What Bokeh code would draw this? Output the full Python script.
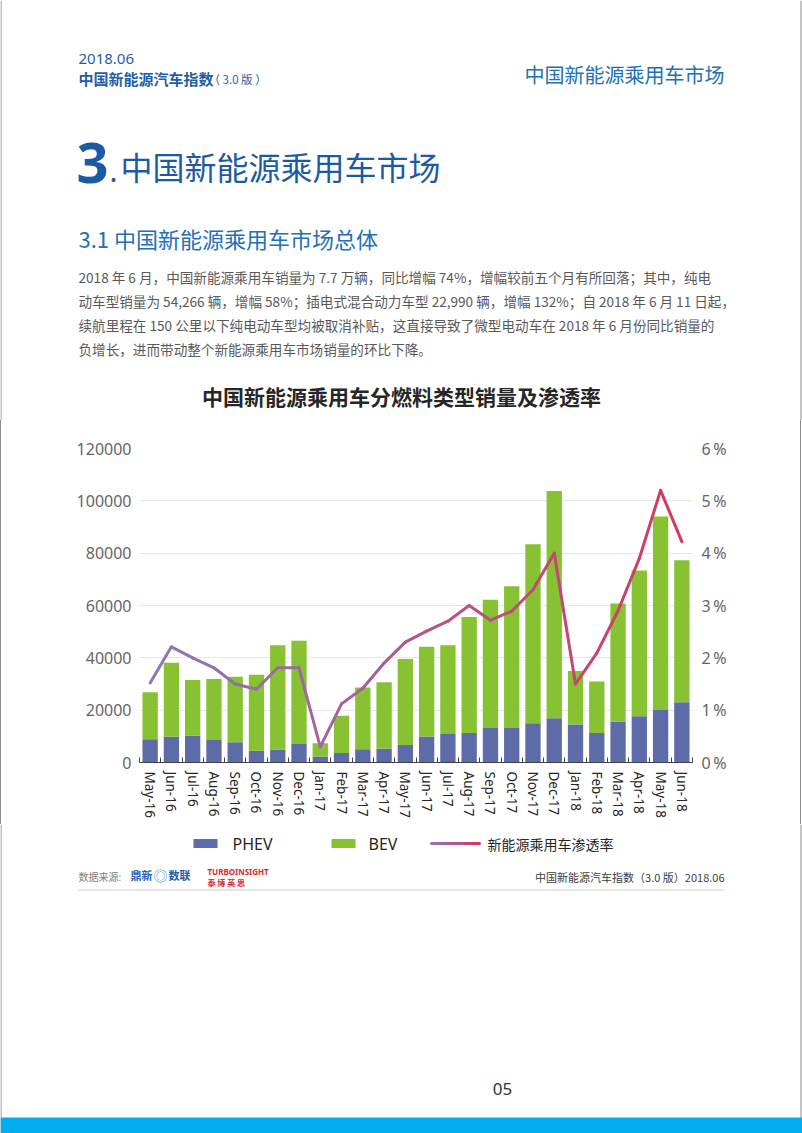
import math
import numpy as np
from bokeh.plotting import figure
from bokeh.layouts import column, row
from bokeh.models import (Range1d, LinearAxis, FixedTicker, CustomJSTickFormatter,
                          NumeralTickFormatter, ColumnDataSource, Grid, Spacer)
from bokeh.core.properties import value
from bokeh.embed import file_html
from bokeh.resources import INLINE

# ---------------- data ----------------
months = ["May-16", "Jun-16", "Jul-16", "Aug-16", "Sep-16", "Oct-16", "Nov-16", "Dec-16",
          "Jan-17", "Feb-17", "Mar-17", "Apr-17", "May-17", "Jun-17", "Jul-17", "Aug-17",
          "Sep-17", "Oct-17", "Nov-17", "Dec-17", "Jan-18", "Feb-18", "Mar-18", "Apr-18",
          "May-18", "Jun-18"]
phev = [8900, 9800, 10200, 8600, 7700, 4500, 5000, 7100,
        2300, 3600, 5100, 5300, 6700, 9900, 10900, 11300,
        13200, 13200, 15000, 16900, 14500, 11300, 15600, 17700,
        20100, 22990]
bev = [17900, 28300, 21300, 23300, 25100, 29000, 39800, 39400,
       5100, 14300, 23600, 25400, 32900, 34300, 33900, 44300,
       49000, 54200, 68400, 86900, 20500, 19700, 45200, 55700,
       73900, 54266]
penetration = [1.52, 2.21, 2.00, 1.81, 1.50, 1.40, 1.81, 1.81,
               0.30, 1.12, 1.42, 1.90, 2.30, 2.51, 2.70, 3.00,
               2.72, 2.89, 3.30, 4.00, 1.50, 2.09, 2.90, 3.90,
               5.20, 4.22]
y_ticks = [0, 20000, 40000, 60000, 80000, 100000, 120000]
pct_ticks = [0, 1, 2, 3, 4, 5, 6]
legend_labels = ["PHEV", "BEV", "新能源乘用车渗透率"]

# ---------------- styles ----------------
BLUE_BAR = "#5d6ba8"
GREEN_BAR = "#86c232"
HEAD = "#1f5fa6"
HEAD2 = "#2270b8"
CJK = "Noto Sans CJK SC"
LAT = "Noto Sans"
BORDER = "#8c8c8c"
C0 = np.array([136, 122, 186])   # gradient start (purple)
C1 = np.array([214, 56, 92])     # gradient end (crimson)


def grad(t):
    c = (C0 + (C1 - C0) * t).round().astype(int)
    return "#%02x%02x%02x" % tuple(c)


W = 802
TOP_H = 420               # page y 0..420
CH_TOP, CH_H = 420, 404   # page y 420..824
BOT_TOP = 824
BOT_H = 1133 - BOT_TOP

FL, FR, FT, FB = 139, 692, 448, 762   # chart frame in page coords
N = len(months)
YMAX = y_ticks[-1]


def deco_fig(h, top):
    f = figure(width=W, height=h, output_backend="svg", toolbar_location=None,
               x_range=Range1d(0, W), y_range=Range1d(top + h, top),
               x_axis_type=None, y_axis_type=None,
               min_border=0, min_border_left=0, min_border_right=0,
               min_border_top=0, min_border_bottom=0, frame_align=False)
    f.outline_line_color = None
    f.grid.visible = False
    # page border (left / right edges)
    f.segment(x0=[0.5, 800.5], y0=[top, top], x1=[0.5, 800.5], y1=[top + h, top + h],
              line_color=BORDER, line_width=1)
    return f


def txt(f, text, x, y, size, color, font=CJK, style="normal", align="left"):
    f.text(x=[x], y=[y], text=[text], text_font=value(font),
           text_font_size=value(f"{size}px"), text_color=color,
           text_font_style=style, text_align=align, text_baseline="middle")


# ================= top (header + text) =================
top = deco_fig(TOP_H, 0)
txt(top, "2018.06", 78, 58, 15, HEAD, font=LAT)
txt(top, "中国新能源汽车指数", 78, 78, 15, HEAD, style="bold")
txt(top, "（ 3.0 版 ）", 208, 78, 11.5, HEAD)
txt(top, "中国新能源乘用车市场", 724, 74, 20, HEAD2, align="right")

txt(top, "3", 76, 162, 56, "#1c5ba4", font=LAT, style="bold")
txt(top, ".", 109, 170, 30, "#1c5ba4", font=LAT)
txt(top, "中国新能源乘用车市场", 120, 165, 32, "#1c5ba4")
txt(top, "3.1 中国新能源乘用车市场总体", 78, 237, 22, HEAD2)

para = [
    "2018 年 6 月，中国新能源乘用车销量为 7.7 万辆，同比增幅 74%，增幅较前五个月有所回落；其中，纯电",
    "动车型销量为 54,266 辆，增幅 58%；插电式混合动力车型 22,990 辆，增幅 132%；自 2018 年 6 月 11 日起，",
    "续航里程在 150 公里以下纯电动车型均被取消补贴，这直接导致了微型电动车在 2018 年 6 月份同比销量的",
    "负增长，进而带动整个新能源乘用车市场销量的环比下降。",
]
for k, line in enumerate(para):
    txt(top, line, 78, 276 + 24 * k, 13.6, "#595959")

txt(top, "中国新能源乘用车分燃料类型销量及渗透率", 401, 395, 21, "#262626",
    style="bold", align="center")

# ================= chart =================
CW = W - 3   # 1px border strip on the left, 2px strip on the right
p = figure(width=CW, height=CH_H, output_backend="svg", toolbar_location=None,
           x_range=Range1d(0, N), y_range=Range1d(0, YMAX),
           x_axis_type=None, y_axis_type=None, frame_align=False,
           min_border_left=FL - 1, min_border_right=CW - (FR - 1),
           min_border_top=FT - CH_TOP, min_border_bottom=CH_TOP + CH_H - FB)
p.outline_line_color = None
p.extra_y_ranges = {"pct": Range1d(0, pct_ticks[-1])}

p.add_layout(Grid(dimension=1, ticker=FixedTicker(ticks=y_ticks[1:]),
                  grid_line_color="#e6e6e6", grid_line_width=1))

x_centers = [i + 0.5 for i in range(N)]

xaxis = LinearAxis(
    ticker=FixedTicker(ticks=x_centers, minor_ticks=list(range(N + 1))),
    formatter=CustomJSTickFormatter(args=dict(labels=months),
                                    code="return labels[Math.floor(tick)] || ''"),
    major_tick_line_color=None, major_tick_in=0, major_tick_out=0,
    minor_tick_in=5, minor_tick_out=0, minor_tick_line_color="#404040",
    axis_line_color="#404040", axis_line_width=1,
    major_label_orientation=-math.pi / 2, major_label_standoff=9,
    major_label_text_font=LAT, major_label_text_font_size="13.5px",
    major_label_text_color="#262626")
p.add_layout(xaxis, "below")

yaxis = LinearAxis(
    ticker=FixedTicker(ticks=y_ticks), formatter=NumeralTickFormatter(format="0"),
    axis_line_color=None, major_tick_line_color=None, minor_tick_line_color=None,
    major_tick_in=0, major_tick_out=0, major_label_standoff=8,
    major_label_text_font=LAT, major_label_text_font_size="16px",
    major_label_text_color="#666666")
p.add_layout(yaxis, "left")

raxis = LinearAxis(
    y_range_name="pct", ticker=FixedTicker(ticks=pct_ticks),
    formatter=CustomJSTickFormatter(code="return tick.toFixed(0) + '\\u2009%'"),
    axis_line_color=None, major_tick_line_color=None, minor_tick_line_color=None,
    major_tick_in=0, major_tick_out=0, major_label_standoff=9,
    major_label_text_font=LAT, major_label_text_font_size="16px",
    major_label_text_color="#666666")
p.add_layout(raxis, "right")

src = ColumnDataSource(dict(x=x_centers, month=months, PHEV=phev, BEV=bev))
bars = p.vbar_stack(["PHEV", "BEV"], x="x", width=0.72, source=src,
                    fill_color=[BLUE_BAR, GREEN_BAR], line_color=None)

seg_cols = [grad((i + 0.5) / (N - 1)) for i in range(N - 1)]
seg_src = ColumnDataSource(dict(x0=x_centers[:-1], y0=penetration[:-1],
                                x1=x_centers[1:], y1=penetration[1:], c=seg_cols))
p.segment("x0", "y0", "x1", "y1", source=seg_src, line_color="c",
          line_width=3, line_cap="round", y_range_name="pct")

chart_row = row(
    Spacer(width=1, height=CH_H, styles={"background-color": BORDER}),
    p,
    Spacer(width=1, height=CH_H, styles={"background-color": BORDER}),
    Spacer(width=1, height=CH_H, styles={"background-color": "white"}),
    spacing=0)

# ================= bottom (legend + footer) =================
bot = deco_fig(BOT_H, BOT_TOP)
# legend
bot.quad(left=[193], right=[217], top=[838.5], bottom=[847.5], fill_color=BLUE_BAR, line_color=None)
txt(bot, legend_labels[0], 232, 843, 16, "#262626", font=LAT)
bot.quad(left=[331], right=[355], top=[838.5], bottom=[847.5], fill_color=GREEN_BAR, line_color=None)
txt(bot, legend_labels[1], 368, 843, 16, "#262626", font=LAT)
nseg = 10
lx = np.linspace(431, 479, nseg + 1)
bot.segment(x0=lx[:-1], y0=[843] * nseg, x1=lx[1:], y1=[843] * nseg,
            line_color=[grad((k + 0.5) / nseg) for k in range(nseg)],
            line_width=3, line_cap="round")
txt(bot, legend_labels[2], 487, 843, 14, "#262626")

# footer
txt(bot, "数据来源:", 78, 876, 10, "#808080")
txt(bot, "鼎新", 130, 874, 11, "#2a5caa", style="bold")
txt(bot, "◎", 153, 874, 14, "#3aa0d8")
txt(bot, "数联", 168, 874, 11, "#2a5caa", style="bold")
txt(bot, "TURBOINSIGHT", 207, 871, 8, "#d7282f", font=LAT, style="bold")
txt(bot, "泰 博 英 思", 207, 882, 8, "#d7282f", style="bold")
txt(bot, "中国新能源汽车指数（3.0 版）2018.06", 724, 876, 11, "#404040", align="right")
bot.segment(x0=[78], y0=[889.5], x1=[724], y1=[889.5], line_color="#d0d0d0", line_width=1)

txt(bot, "05", 502, 1088, 17, "#333333", font=LAT, align="center")
bot.quad(left=[0], right=[W], top=[1117], bottom=[1133], fill_color="#00aeef", line_color=None)

layout = column(top, chart_row, bot, spacing=0)

open("out.html", "w").write(file_html(layout, INLINE))
